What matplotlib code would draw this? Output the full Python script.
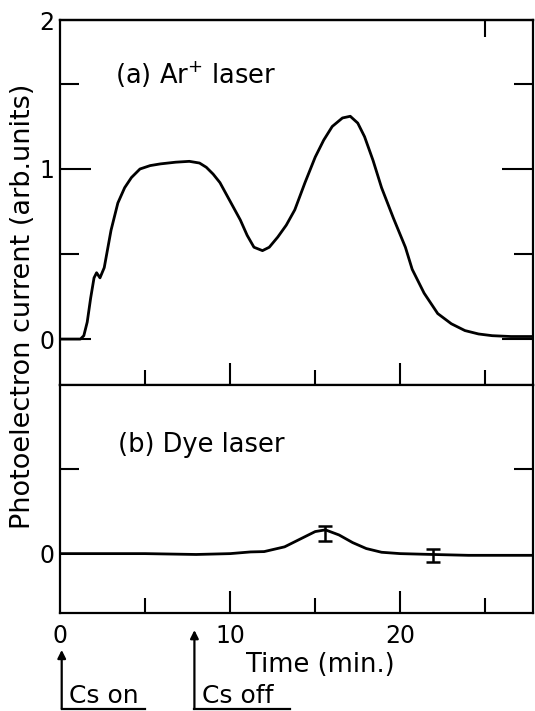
import numpy as np
import matplotlib
matplotlib.use("Agg")
import matplotlib.pyplot as plt

# (a) Ar+ laser trace
t_ar = [0, 1.2, 1.4, 1.6, 1.8, 2.0, 2.15, 2.35, 2.6, 3.0, 3.4, 3.8, 4.2, 4.7, 5.3,
        5.9, 6.8, 7.6, 8.2, 8.6, 9.0, 9.4, 10.0, 10.6, 11.0, 11.4, 11.9, 12.3, 12.8,
        13.3, 13.8, 14.4, 15.0, 15.5, 16.0, 16.6, 17.06, 17.5, 17.9, 18.4, 18.9,
        19.6, 20.3, 20.7, 21.4, 22.2, 23.0, 23.8, 24.6, 25.4, 26.5, 27.8]
i_ar = [0, 0, 0.02, 0.1, 0.24, 0.36, 0.39, 0.36, 0.42, 0.64, 0.80, 0.89, 0.95, 1.0, 1.02,
        1.03, 1.04, 1.045, 1.035, 1.01, 0.97, 0.92, 0.81, 0.70, 0.61, 0.54, 0.52, 0.54, 0.60,
        0.67, 0.76, 0.92, 1.07, 1.17, 1.25, 1.30, 1.31, 1.27, 1.19, 1.05, 0.89,
        0.71, 0.54, 0.41, 0.27, 0.15, 0.09, 0.05, 0.03, 0.02, 0.015, 0.015]

# (b) dye laser trace
t_dye = [0, 5, 8, 10, 11.2, 12, 13.2, 14.4, 15.0, 15.6, 16.4, 17.2, 18.0, 18.9, 20.0,
         21.9, 24.0, 27.8]
i_dye = [0, 0, -0.005, 0, 0.01, 0.012, 0.04, 0.10, 0.13, 0.14, 0.11, 0.065, 0.03, 0.008,
         0.0, -0.005, -0.01, -0.01]

# error bars on (b)
err_t = [15.6, 21.9]
err_y = [0.12, -0.01]
err_e = [0.045, 0.04]

W, H = 535, 711
fig = plt.figure(figsize=(W / 100, H / 100), dpi=100)
plt.rcParams["mathtext.default"] = "regular"

def px_box(left, top, right, bottom):
    return [left / W, 1 - bottom / H, (right - left) / W, (bottom - top) / H]

ax1 = fig.add_axes(px_box(60, 20, 533, 385))
ax2 = fig.add_axes(px_box(60, 385, 533, 613))

xmax = 27.8
ytop = 1.876
ax1.set_xlim(0, xmax)
ax1.set_ylim(-0.27, ytop)
ax2.set_xlim(0, xmax)
ax2.set_ylim(-0.35, 0.994)

ax1.plot(t_ar, i_ar, color="black", lw=2.0, solid_joinstyle="round")
ax2.plot(t_dye, i_dye, color="black", lw=2.0, solid_joinstyle="round")
ax2.errorbar(err_t, err_y, yerr=err_e, fmt="none", ecolor="black", elinewidth=1.8,
             capsize=5, capthick=1.8)

for ax in (ax1, ax2):
    for s in ax.spines.values():
        s.set_linewidth(1.6)
    ax.set_xticks([10, 20])
    ax.set_xticks([5, 15, 25], minor=True)
    ax.tick_params(axis="both", which="both", direction="in", width=1.5,
                   left=True, right=True, bottom=True, top=False, labelsize=17)
    ax.tick_params(axis="x", which="major", length=16)
    ax.tick_params(axis="x", which="minor", length=11)
    ax.tick_params(axis="y", which="major", length=22, pad=4)
    ax.tick_params(axis="y", which="minor", length=14)

ax1.set_yticks([0, 1, ytop])
ax1.set_yticklabels(["0", "1", "2"])
ax1.set_yticks([0.5, 1.5], minor=True)
t2 = ax1.yaxis.get_major_ticks()[2]
t2.tick1line.set_visible(False)
t2.tick2line.set_visible(False)
ax1.tick_params(axis="x", labelbottom=False)

# single tick on the top edge at 25 min
sec = ax1.secondary_xaxis("top")
sec.set_xticks([25])
sec.tick_params(direction="in", length=12, width=1.5, labeltop=False)
sec.spines["top"].set_linewidth(1.6)

ax2.set_yticks([0])
ax2.set_yticklabels(["0"])
ax2.set_yticks([0.5], minor=True)
ax2.yaxis.get_major_ticks()[0].tick1line.set_visible(False)
ax2.yaxis.get_major_ticks()[0].tick2line.set_visible(False)
ax2.set_xticks([0, 10, 20])
ax2.set_xticklabels(["0", "10", "20"])
ax2.xaxis.get_major_ticks()[0].tick1line.set_visible(False)
ax2.tick_params(axis="x", which="major", pad=8)

fig.text(115 / W, 1 - 84 / H, "(a) Ar$^{+}$ laser", fontsize=18.5, va="baseline")
fig.text(118 / W, 1 - 452 / H, "(b) Dye laser", fontsize=18.5, va="baseline")

fig.text(23 / W, 1 - 306 / H, "Photoelectron current (arb.units)", rotation=90,
         fontsize=19.5, ha="center", va="center")
fig.text(320 / W, 1 - 672 / H, "Time (min.)", fontsize=18.5, ha="center", va="baseline")

# Cs on / Cs off markers below the time axis
trans = ax2.get_xaxis_transform()
marks = [(0.1, 5.0, -0.162, "Cs on"), (7.9, 13.5, -0.075, "Cs off")]
for x0, x1, tip, label in marks:
    ax2.annotate("", xy=(x0, tip), xytext=(x0, -0.421), xycoords=trans,
                 arrowprops=dict(arrowstyle="-|>", lw=1.6, color="black",
                                 mutation_scale=12, shrinkA=0, shrinkB=0),
                 annotation_clip=False)
    ax2.plot([x0, x1], [-0.421, -0.421], color="black", lw=1.6,
             transform=trans, clip_on=False)
    ax2.text(x0 + 0.45, -0.395, label, fontsize=18, transform=trans, va="baseline")

fig.savefig("out.png", dpi=100)
